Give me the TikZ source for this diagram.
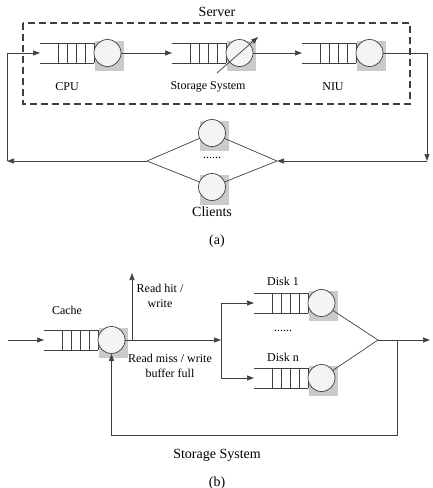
\documentclass[tikz,border=0pt]{standalone}
\usepackage{fontspec}
\setmainfont{Liberation Serif}
\usetikzlibrary{arrows.meta}
\definecolor{lc}{HTML}{404040}
\definecolor{shd}{HTML}{CACACA}
\definecolor{cf}{HTML}{F4F4F4}
\tikzset{
  ln/.style={draw=lc,line width=0.7pt},
  arr/.style={ln,-{Triangle[length=7pt,width=5pt]}},
  srv/.style={circle,draw=lc,line width=0.7pt,fill=cf,minimum size=27pt,inner sep=0pt},
  lbl/.style={font=\fontsize{12}{15}\selectfont,text=black,inner sep=0pt,align=center},
  ttl/.style={font=\fontsize{14}{17}\selectfont,text=black,inner sep=0pt},
}
\newcommand{\qstation}[3]{%
  \begin{scope}[shift={(#2,#3)}]
    \fill[shd] (55,-12) rectangle (84,18);
    \draw[ln] (0,-10) -- (54,-10) (0,10) -- (54,10);
    \foreach \d in {18,27,36,45,54} \draw[ln] (\d,-10) -- (\d,10);
    \node[srv] (#1) at (67.5,0) {};
    \coordinate (#1-in) at (0,0);
  \end{scope}}
\newcommand{\cstation}[3]{%
  \begin{scope}[shift={(#2,#3)}]
    \fill[shd] (-12.5,-12) rectangle (16.5,18);
    \node[srv] (#1) at (0,0) {};
  \end{scope}}
\begin{document}
\begin{tikzpicture}[x=1pt,y=-1pt]
\useasboundingbox (0,0) rectangle (432,488);
% ---------------- (a) ----------------
\node[ttl] (server) at (217,12) {Server};
\draw[lc,line width=1.3pt,dash pattern=on 7pt off 4pt] (23,23) rectangle (410,104);
\qstation{cpu}{40}{53}
\qstation{sto}{172}{53}
\qstation{niu}{302}{53}
\node[lbl] (cpul) at (67,87) {CPU};
\node[lbl] (stol) at (208,87) {Storage System};
\node[lbl] (niul) at (333,87) {NIU};
\draw[arr] (cpu) -- (sto-in);
\draw[arr] (sto) -- (niu-in);
\coordinate (sa1) at (217,73);
\coordinate (sa2) at (258,37);
\draw[arr] (sa1) -- (sa2);
% clients
\cstation{cl1}{212}{133}
\cstation{cl2}{212}{187}
\coordinate (dl) at (147,161);
\coordinate (dr) at (277,161);
\draw[ln] (dl) -- (cl1) (dl) -- (cl2);
\draw[ln] (dr) -- (cl1) (dr) -- (cl2);
\node[lbl] (cdots) at (212,158) {......};
\node[ttl] (clients) at (212,212) {Clients};
% loops
\coordinate (rt) at (427,53);
\coordinate (rb) at (427,161);
\coordinate (lt) at (7,53);
\coordinate (lb) at (7,161);
\draw[ln] (niu) -- (rt);
\draw[arr] (rt) -- (rb);
\draw[arr] (rb) -- (dr);
\draw[arr] (dl) -- (lb);
\draw[arr] (lb) -- (lt) -- (cpu-in);
\node[ttl] (la) at (217,241) {(a)};
% ---------------- (b) ----------------
\qstation{cache}{44}{340}
\node[lbl] (cachel) at (67,310) {Cache};
\coordinate (cin) at (8,340);
\draw[arr] (cin) -- (cache-in);
\coordinate (sp) at (221,340);
\draw[arr] (cache) -- (sp);
\coordinate (up0) at (132,340);
\coordinate (up1) at (132,273);
\draw[arr] (up0) -- (up1);
\node[lbl] (hit) at (160,295.5) {Read hit /\\write};
\node[lbl] (miss) at (170,365.5) {Read miss / write\\buffer full};
\qstation{d1}{254}{303}
\qstation{dn}{254}{378}
\coordinate (spt) at (221,303);
\coordinate (spb) at (221,378);
\draw[ln] (spt) -- (spb);
\draw[arr] (spt) -- (d1-in);
\draw[arr] (spb) -- (dn-in);
\node[lbl] (d1l) at (283,281) {Disk 1};
\node[lbl] (ddots) at (283,331) {......};
\node[lbl] (dnl) at (283,357) {Disk n};
\coordinate (mv) at (378,340);
\draw[ln] (d1) -- (mv) (dn) -- (mv);
\coordinate (out) at (430,340);
\draw[arr] (mv) -- (out);
\coordinate (fb0) at (397,340);
\coordinate (fb1) at (397,435);
\coordinate (fb2) at (111.5,435);
\draw[arr] (fb0) -- (fb1) -- (fb2) -- (cache.south);
\node[ttl] (ssl) at (217,455) {Storage System};
\node[ttl] (lb2) at (217,483) {(b)};
\end{tikzpicture}
\end{document}
